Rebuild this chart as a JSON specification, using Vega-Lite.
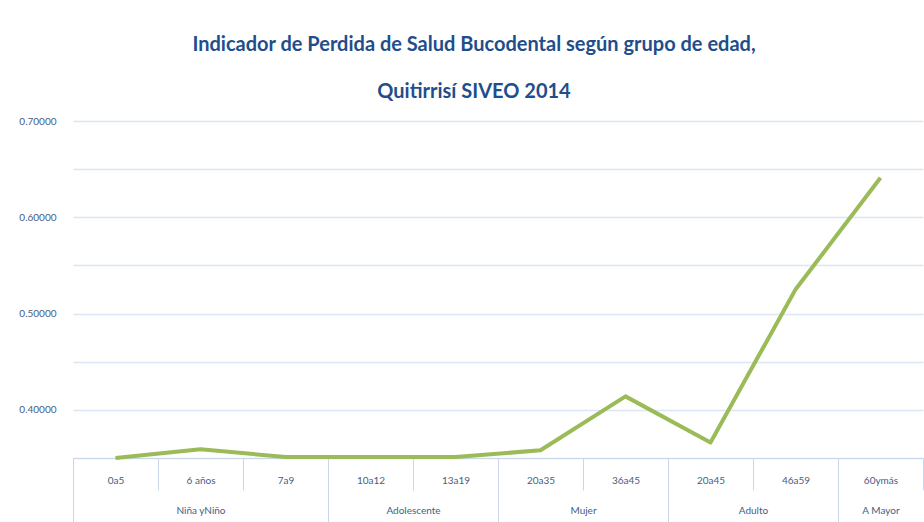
{
  "$schema": "https://vega.github.io/schema/vega-lite/v6.json",
  "autosize": {"type": "none"},
  "padding": {"left": 73, "top": 121, "right": 1, "bottom": 64},
  "width": 850,
  "height": 337,
  "background": "white",
  "config": {
    "view": {"stroke": null},
    "font": "Lato",
    "axis": {"labelFont": "Lato", "labelColor": "#445E85", "labelFontSize": 10}
  },
  "title": {
    "text": ["Indicador de Perdida de Salud Bucodental según grupo de edad,", "Quitirrisí SIVEO 2014"],
    "font": "Lato",
    "fontSize": 20,
    "fontWeight": "bold",
    "color": "#1F4E8C",
    "lineHeight": 47,
    "anchor": "middle",
    "frame": "group",
    "dx": -24,
    "offset": 14
  },
  "datasets": {
    "serie": [
      {"categoria": "0a5", "valor": 0.350},
      {"categoria": "6 años", "valor": 0.359},
      {"categoria": "7a9", "valor": 0.351},
      {"categoria": "10a12", "valor": 0.351},
      {"categoria": "13a19", "valor": 0.351},
      {"categoria": "20a35", "valor": 0.358},
      {"categoria": "36a45", "valor": 0.414},
      {"categoria": "20a45", "valor": 0.366},
      {"categoria": "46a59", "valor": 0.525},
      {"categoria": "60ymás", "valor": 0.641}
    ],
    "grupos": [
      {"grupo": "Niña yNiño", "centro": 1.5},
      {"grupo": "Adolescente", "centro": 4},
      {"grupo": "Mujer", "centro": 6},
      {"grupo": "Adulto", "centro": 8},
      {"grupo": "A Mayor", "centro": 9.5}
    ]
  },
  "layer": [
    {
      "data": {"name": "serie"},
      "mark": {"type": "line", "color": "#9BBB59", "strokeWidth": 4, "strokeJoin": "round"},
      "encoding": {
        "x": {
          "field": "categoria",
          "type": "nominal",
          "sort": null,
          "bandPosition": 0.5,
          "scale": {"type": "band", "paddingInner": 0, "paddingOuter": 0},
          "axis": {
            "title": null,
            "orient": "bottom",
            "labelAngle": 0,
            "tickBand": "extent",
            "tickColor": "#C9D7EA",
            "tickSize": {"condition": {"test": "!isValid(datum.value) || indexof(['7a9','13a19','36a45','46a59'], datum.value) >= 0", "value": 70}, "value": 32},
            "labelPadding": {"condition": {"test": "!isValid(datum.value) || indexof(['7a9','13a19','36a45','46a59'], datum.value) >= 0", "value": -53}, "value": -15},
            "domainColor": "#C9D7EA",
            "grid": false
          }
        },
        "y": {
          "field": "valor",
          "type": "quantitative",
          "scale": {"domain": [0.35, 0.70], "nice": false, "zero": false},
          "axis": {
            "title": null,
            "values": [0.35, 0.4, 0.45, 0.5, 0.55, 0.6, 0.65, 0.7],
            "labelExpr": "(round(datum.value*100) % 10 == 0 && datum.value > 0.36) ? format(datum.value, '.5f') : ''",
            "domain": false,
            "ticks": false,
            "labelPadding": 17,
            "grid": true,
            "gridColor": "#DCE6F4",
            "gridWidth": 1.5
          }
        }
      }
    },
    {
      "data": {"name": "grupos"},
      "mark": {"type": "rule", "strokeOpacity": 0},
      "encoding": {
        "x": {
          "field": "centro",
          "type": "quantitative",
          "scale": {"domain": [0, 10], "nice": false, "zero": false},
          "axis": {
            "title": null,
            "orient": "bottom",
            "values": [1.5, 4, 6, 8, 9.5],
            "labelExpr": "datum.value == 1.5 ? 'Niña yNiño' : datum.value == 4 ? 'Adolescente' : datum.value == 6 ? 'Mujer' : datum.value == 8 ? 'Adulto' : 'A Mayor'",
            "ticks": false,
            "domain": false,
            "grid": false,
            "labelPadding": 47
          }
        }
      }
    }
  ],
  "resolve": {"scale": {"x": "independent"}, "axis": {"x": "independent"}}
}
